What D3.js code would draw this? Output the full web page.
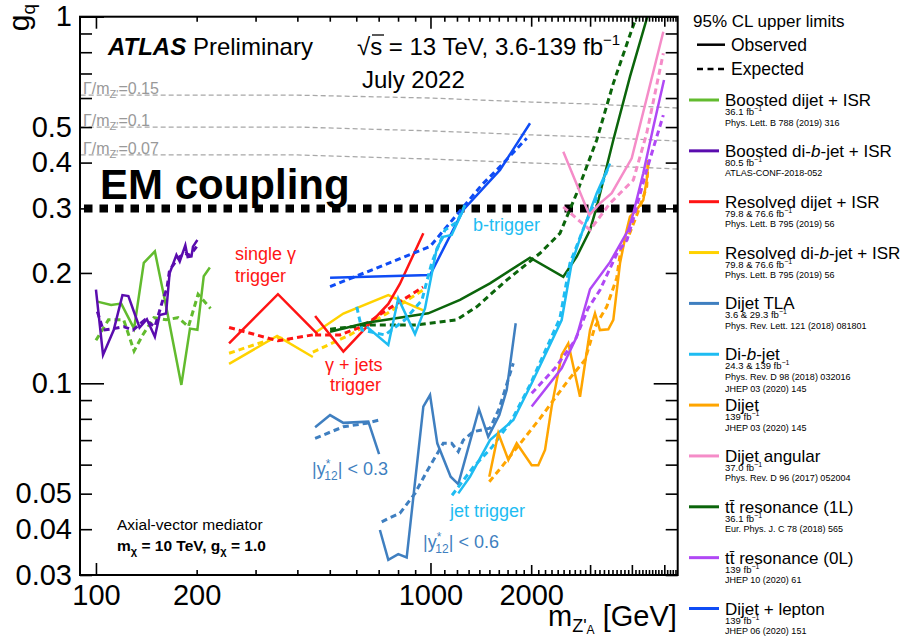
<!DOCTYPE html>
<html><head><meta charset="utf-8">
<script src="https://cdn.jsdelivr.net/npm/d3@7"></script>
<style>body{margin:0;background:#fff} svg{display:block;font-family:"Liberation Sans",Arial,Helvetica,sans-serif}</style>
</head><body><svg id="c" width="912" height="639"></svg>
<script>
// ---------------- data (m [GeV], g_q) ----------------
const boostedDijetObs = [[101,0.167],[111,0.1635],[119,0.165],[130,0.141],[139,0.213],[150,0.229],[163,0.158],[180,0.099],[191,0.141],[201,0.140],[210,0.196],[219,0.207]];
const boostedDijetExp = [[100,0.131],[109,0.149],[121,0.149],[130,0.1225],[138,0.1355],[149,0.151],[162,0.149],[176,0.151],[189,0.1427],[202,0.175],[220,0.160]];
const boostedDibObs = [[100,0.180],[105,0.1195],[113,0.1397],[120,0.174],[125,0.173],[135,0.142],[142,0.1495],[150,0.134],[155,0.1536],[162,0.155],[166,0.1995],[174,0.224],[178,0.215],[185,0.238],[188,0.221],[193,0.222],[195,0.236],[201,0.246]];
const boostedDibExp = [[101,0.157],[105,0.1397],[113,0.141],[121,0.1427],[129,0.1397],[140,0.149],[150,0.1427],[159,0.1705],[163,0.1816],[166,0.2037],[172,0.213],[178,0.2215],[185,0.226],[191,0.2235],[200,0.236]];
const resDijetObsA = [[250,0.1286],[350,0.175],[458,0.1366]];
const resDijetExpA = [[250,0.142],[350,0.1306],[461,0.1363]];
const resDijetObsB = [[452,0.1527],[549,0.122],[748,0.1646],[810,0.1866],[952,0.2565]];
const resDijetExpB = [[452,0.1355],[536,0.1355],[624,0.1428],[741,0.1585],[950,0.183]];
const resDibObsA = [[250,0.113],[348,0.1346],[445,0.118]];
const resDibExpA = [[250,0.1208],[348,0.1335],[380,0.131]];
const resDibObsB = [[452,0.1374],[549,0.155],[748,0.174],[952,0.158]];
const resDibExpB = [[445,0.1217],[574,0.1355],[741,0.155],[950,0.1797]];
const tla03Obs = [[452,0.0759],[501,0.0819],[549,0.078],[652,0.0786],[702,0.0641]];
const tla03Exp = [[452,0.0708],[549,0.0761],[644,0.0778],[702,0.0794]];
const tla06Obs = [[706,0.0398],[748,0.033],[801,0.0342],[849,0.0335],[952,0.0864],[997,0.0929],[1048,0.0686],[1149,0.0556],[1211,0.0531],[1396,0.085],[1488,0.0715],[1606,0.0819],[1690,0.0959],[1798,0.1458]];
const tla06Exp = [[715,0.0419],[748,0.0428],[810,0.0442],[899,0.0501],[974,0.0574],[1092,0.0686],[1157,0.0686],[1211,0.0651],[1253,0.070],[1343,0.0738],[1506,0.0754],[1606,0.0855],[1768,0.1134]];
const dibBObs = [[645,0.1427],[748,0.1272],[801,0.1705],[899,0.1363],[963,0.160],[1044,0.2334],[1092,0.251],[1157,0.2539],[1253,0.297]];
const dibBExp = [[602,0.1617],[624,0.1397],[731,0.1355],[839,0.149],[943,0.1688],[1010,0.214],[1105,0.262],[1200,0.2754],[1268,0.3064]];
const dibJObs = [[1211,0.0501],[1312,0.0556],[1506,0.070],[1769,0.0794],[2007,0.1],[2467,0.1488],[2643,0.2125],[2832,0.2565],[3140,0.33],[3440,0.398]];
const dibJExp = [[1160,0.0495],[1343,0.0591],[1528,0.067],[1750,0.0794],[1984,0.099],[2438,0.1507],[2612,0.2126],[2856,0.262],[3210,0.3366],[3393,0.3867]];
const dijetObs = [[1499,0.0556],[1595,0.0731],[1709,0.0618],[1810,0.0686],[2007,0.0598],[2100,0.0598],[2200,0.0658],[2303,0.0864],[2467,0.1195],[2582,0.1285],[2799,0.0919],[2999,0.1397],[3103,0.1552],[3211,0.1397],[3401,0.1404],[3520,0.149],[3686,0.2125],[3860,0.262],[3948,0.2847],[4134,0.297],[4327,0.316],[4430,0.3586],[4478,0.4065]];
const dijetExp = [[1499,0.0539],[1633,0.0592],[2125,0.0802],[2582,0.102],[2896,0.1158],[3103,0.1427],[3363,0.1617],[3603,0.1934],[3730,0.241],[3904,0.251],[4229,0.303],[4430,0.3439],[4478,0.4065]];
const angularObs = [[2495,0.428],[2985,0.288],[3211,0.3097],[3481,0.33],[3995,0.411],[4966,0.91]];
const angularExp = [[2495,0.303],[2766,0.279],[2999,0.262],[3440,0.3097],[4040,0.3586],[4430,0.481],[4966,0.795]];
const tt1LObs = [[501,0.1382],[645,0.1463],[985,0.1552],[1225,0.1688],[1506,0.1874],[1984,0.220],[2495,0.1953],[2736,0.2215],[2999,0.262],[3140,0.303],[3520,0.461],[3948,0.686],[4450,1.0]];
const tt1LExp = [[501,0.1404],[645,0.1443],[909,0.1443],[1198,0.149],[1375,0.1617],[1690,0.1913],[2125,0.2263],[2438,0.2565],[2736,0.33],[3140,0.461],[3520,0.658],[3995,0.92],[4130,1.0]];
const tt0LObs = [[2007,0.0864],[2467,0.1099],[2736,0.134],[2999,0.1805],[3440,0.214],[3904,0.262],[4040,0.291],[4325,0.374],[4637,0.5],[4990,0.672]];
const tt0LExp = [[2007,0.0939],[2355,0.1099],[2705,0.131],[2957,0.160],[3211,0.1797],[3610,0.226],[3867,0.246],[4030,0.279],[4430,0.382],[4966,0.539]];
const lepObs = [[501,0.194],[997,0.1974],[1253,0.297],[1614,0.382],[1984,0.512]];
const lepExp = [[501,0.1835],[997,0.236],[1423,0.3475],[1614,0.390],[1939,0.466]];

const widthMass = [90,400,1000,2000,3000,4000,5480];
const width015 = [0.611,0.611,0.600,0.585,0.578,0.571,0.5636];
const width010 = [0.500,0.500,0.488,0.476,0.470,0.464,0.458];
const width007 = [0.4196,0.4196,0.409,0.399,0.394,0.389,0.3842];
const widthLabels = ["0.15","0.1","0.07"];
const emCoupling = 0.3;

const yTickLabels = {0.03:"0.03",0.04:"0.04",0.05:"0.05",0.1:"0.1",0.2:"0.2",0.3:"0.3",0.4:"0.4",0.5:"0.5",1:"1"};
const xTickLabels = {100:"100",200:"200",1000:"1000",2000:"2000"};

const legendEntries = [
  {name:"Boosted dijet + ISR", color:"#62bb2e", lumi:"36.1 fb", refs:["Phys. Lett. B 788 (2019) 316"]},
  {name:"Boosted di-*b*-jet + ISR", color:"#5a0cae", lumi:"80.5 fb", refs:["ATLAS-CONF-2018-052"]},
  {name:"Resolved dijet + ISR", color:"#ff1414", lumi:"79.8 & 76.6 fb", refs:["Phys. Lett. B 795 (2019) 56"]},
  {name:"Resolved di-*b*-jet + ISR", color:"#ffd200", lumi:"79.8 & 76.6 fb", refs:["Phys. Lett. B 795 (2019) 56"]},
  {name:"Dijet TLA", color:"#3f7fc0", lumi:"3.6 & 29.3 fb", refs:["Phys. Rev. Lett. 121 (2018) 081801"]},
  {name:"Di-*b*-jet", color:"#1ebcf2", lumi:"24.3 & 139 fb", refs:["Phys. Rev. D 98 (2018) 032016","JHEP 03 (2020) 145"]},
  {name:"Dijet", color:"#ffa500", lumi:"139 fb", refs:["JHEP 03 (2020) 145"]},
  {name:"Dijet angular", color:"#f58cc8", lumi:"37.0 fb", refs:["Phys. Rev. D 96 (2017) 052004"]},
  {name:"tt\u0304 resonance (1L)", color:"#0b650b", lumi:"36.1 fb", refs:["Eur. Phys. J. C 78 (2018) 565"]},
  {name:"tt\u0304 resonance (0L)", color:"#b048f5", lumi:"139 fb", refs:["JHEP 10 (2020) 61"]},
  {name:"Dijet + lepton", color:"#0f4cf5", lumi:"139 fb", refs:["JHEP 06 (2020) 151"]}
];
const C = Object.fromEntries(legendEntries.map((e,i)=>[i,e.color]));

const curves = [
  {pts:boostedDijetObs,c:0},{pts:boostedDijetExp,c:0,d:1},
  {pts:boostedDibObs,c:1},{pts:boostedDibExp,c:1,d:1},
  {pts:resDibObsA,c:3},{pts:resDibExpA,c:3,d:1},{pts:resDibObsB,c:3},{pts:resDibExpB,c:3,d:1},
  {pts:resDijetObsA,c:2},{pts:resDijetExpA,c:2,d:1},{pts:resDijetObsB,c:2},{pts:resDijetExpB,c:2,d:1},
  {pts:tla03Obs,c:4},{pts:tla03Exp,c:4,d:1},{pts:tla06Obs,c:4},{pts:tla06Exp,c:4,d:1},
  {pts:lepObs,c:10},{pts:lepExp,c:10,d:1},
  {pts:tt1LObs,c:8},{pts:tt1LExp,c:8,d:1},
  {pts:dibBObs,c:5},{pts:dibBExp,c:5,d:1},{pts:dibJObs,c:5},{pts:dibJExp,c:5,d:1},
  {pts:dijetObs,c:6},{pts:dijetExp,c:6,d:1},
  {pts:angularObs,c:7},{pts:angularExp,c:7,d:1},
  {pts:tt0LObs,c:9},{pts:tt0LExp,c:9,d:1}
];

// ---------------- layout ----------------
const svg = d3.select('#c');
const X0=80, X1=677.7, Y0=16.7, Y1=575;
const x = d3.scaleLog().domain([89.6,5483]).range([X0,X1]);
const y = d3.scaleLog().domain([0.03,1]).range([Y1,Y0]);

svg.append('defs').append('clipPath').attr('id','clip').append('rect')
  .attr('x',X0).attr('y',Y0).attr('width',X1-X0).attr('height',Y1-Y0);
const plot = svg.append('g').attr('clip-path','url(#clip)');
const line = d3.line().x(d=>x(d[0])).y(d=>y(d[1]));

// width lines
[width015,width010,width007].forEach(ws=>{
  plot.append('path').datum(widthMass.map((m,i)=>[m,ws[i]])).attr('d',line)
    .attr('fill','none').attr('stroke','#a8a8a8').attr('stroke-width',1.3).attr('stroke-dasharray','5,3');
});

function rich(parent, px, py, segs, attrs){
  const t = parent.append('text').attr('x',px).attr('y',py);
  Object.entries(attrs||{}).forEach(([k,v])=>t.attr(k,v));
  segs.forEach(s=>{const ts=t.append('tspan').text(s.t);
    if(s.dy!==undefined) ts.attr('dy',s.dy); if(s.dx!==undefined) ts.attr('dx',s.dx);
    if(s.fs) ts.attr('font-size',s.fs); if(s.fi) ts.attr('font-style',s.fi); if(s.fw) ts.attr('font-weight',s.fw);});
  return t;
}
[width015,width010,width007].forEach((ws,i)=>{
  rich(svg, 83, y(ws[0])-1, [{t:'Γ/m'},{t:"Z'",dy:4,fs:11},{t:'='+widthLabels[i],dy:-4}], {'font-size':16,fill:'#999'});
});

// EM coupling
plot.append('line').attr('x1',X0+4).attr('x2',X1).attr('y1',y(emCoupling)).attr('y2',y(emCoupling))
  .attr('stroke','#000').attr('stroke-width',8).attr('stroke-dasharray','8.5,7');

// curves
curves.forEach(cv=>{
  plot.append('path').datum(cv.pts).attr('d',line).attr('fill','none')
    .attr('stroke',C[cv.c]).attr('stroke-width',cv.d?3:2.5)
    .attr('stroke-dasharray',cv.d?'6,4':null).attr('stroke-linejoin','miter');
});

// ---------------- axes ----------------
const yMinor = [0.03,0.04,0.05,0.06,0.07,0.08,0.09,0.2,0.3,0.4,0.5,0.6,0.7,0.8,0.9];
const yMajor = [0.1,1];
const xMajor = [100,1000];
const xMid = [2000,3000,4000,5000];
const xMinor = d3.range(200,1000,100).concat(d3.range(1100,5500,100).filter(v=>v%1000!==0));
function styleAxis(g){ g.select('.domain').remove(); g.selectAll('line').attr('stroke','#000').attr('stroke-width',1.6);
  g.selectAll('text').attr('font-family','"Liberation Sans",Arial,sans-serif').attr('font-size',29).attr('fill','#000'); }
const fy = d=>yTickLabels[d]||'';
const fx = d=>xTickLabels[d]||'';
svg.append('g').attr('transform',`translate(${X0},0)`).call(d3.axisLeft(y).tickValues(yMinor).tickSize(-12).tickSizeOuter(0).tickPadding(8).tickFormat(fy)).call(styleAxis);
svg.append('g').attr('transform',`translate(${X0},0)`).call(d3.axisLeft(y).tickValues(yMajor).tickSize(-24).tickSizeOuter(0).tickPadding(8).tickFormat(fy)).call(styleAxis);
svg.append('g').attr('transform',`translate(${X1},0)`).call(d3.axisRight(y).tickValues(yMinor).tickSize(-12).tickSizeOuter(0).tickFormat('')).call(styleAxis);
svg.append('g').attr('transform',`translate(${X1},0)`).call(d3.axisRight(y).tickValues(yMajor).tickSize(-24).tickSizeOuter(0).tickFormat('')).call(styleAxis);
[[xMajor,12],[xMid,10],[xMinor,5]].forEach(([vals,len])=>{
  svg.append('g').attr('transform',`translate(0,${Y1})`).call(d3.axisBottom(x).tickValues(vals).tickSize(-len).tickSizeOuter(0).tickPadding(9.5).tickFormat(fx)).call(styleAxis);
  svg.append('g').attr('transform',`translate(0,${Y0})`).call(d3.axisTop(x).tickValues(vals).tickSize(-len).tickSizeOuter(0).tickFormat('')).call(styleAxis);
});
svg.append('rect').attr('x',X0).attr('y',Y0).attr('width',X1-X0).attr('height',Y1-Y0)
  .attr('fill','none').attr('stroke','#000').attr('stroke-width',2);

// axis titles
rich(svg, 548, 626, [{t:'m'},{t:"Z'",dy:6,fs:18},{t:'A',dy:2,fs:12},{t:' [GeV]',dy:-8}], {'font-size':29});
rich(svg, 0, 0, [{t:'g'},{t:'q',dy:6,fs:19}], {'font-size':30,'text-anchor':'end',transform:'translate(29,4) rotate(-90)'});

// ---------------- annotations ----------------
rich(svg,108,55,[{t:'ATLAS',fw:'bold',fi:'italic'},{t:' Preliminary'}],{'font-size':24});
rich(svg,357,55,[{t:'√s = 13 TeV, 3.6-139 fb'},{t:'−1',dy:-10,fs:15}],{'font-size':24});
svg.append('line').attr('x1',372).attr('x2',384).attr('y1',35).attr('y2',35).attr('stroke','#000').attr('stroke-width',1.3);
rich(svg,362,88,[{t:'July 2022'}],{'font-size':24});
rich(svg,100,199,[{t:'EM coupling'}],{'font-size':42,'font-weight':'bold'});
rich(svg,117,530,[{t:'Axial-vector mediator'}],{'font-size':15.5});
rich(svg,117,551,[{t:'m'},{t:'χ',dy:4,fs:11},{t:' = 10 TeV, g',dy:-4},{t:'χ',dy:4,fs:11},{t:' = 1.0',dy:-4}],{'font-size':15.5,'font-weight':'bold'});
rich(svg,235,260,[{t:'single  γ'}],{'font-size':18,fill:C[2]});
rich(svg,235,282,[{t:'trigger'}],{'font-size':18,fill:C[2]});
rich(svg,325,371,[{t:'γ + jets'}],{'font-size':18,fill:C[2]});
rich(svg,330,391,[{t:'trigger'}],{'font-size':18,fill:C[2]});
rich(svg,473,231,[{t:'b-trigger'}],{'font-size':18,fill:C[5]});
rich(svg,450,517,[{t:'jet trigger'}],{'font-size':18,fill:C[5]});
function yStar(px,py,val){
  rich(svg,px,py,[{t:'|y'},{t:'*',dy:-7,fs:12},{t:'12',dx:-6,dy:12,fs:12},{t:'| < '+val,dy:-5}],{'font-size':18,fill:C[4]});
}
yStar(312,475,'0.3');
yStar(423,548,'0.6');

// ---------------- legend ----------------
const lg = svg.append('g');
rich(lg,693,27,[{t:'95% CL upper limits'}],{'font-size':17});
lg.append('line').attr('x1',697).attr('x2',725).attr('y1',44.7).attr('y2',44.7).attr('stroke','#000').attr('stroke-width',2.5);
rich(lg,731,51,[{t:'Observed'}],{'font-size':17.5});
lg.append('line').attr('x1',697).attr('x2',725).attr('y1',69).attr('y2',69).attr('stroke','#000').attr('stroke-width',2.5).attr('stroke-dasharray','6,4.5');
rich(lg,731,75,[{t:'Expected'}],{'font-size':17.5});
legendEntries.forEach((e,i)=>{
  const ly = 100 + i*50.85;
  lg.append('line').attr('x1',689).attr('x2',719).attr('y1',ly).attr('y2',ly).attr('stroke',e.color).attr('stroke-width',3);
  const segs = e.name.split('*').map((s,k)=>({t:s, fi: k%2? 'italic':null}));
  rich(lg,725,ly+6,segs,{'font-size':17});
  rich(lg,725,ly+15,[{t:e.lumi},{t:'−1',dy:-4,fs:7}],{'font-size':9.5});
  e.refs.forEach((r,k)=> rich(lg,725,ly+25.5+k*12.5,[{t:r}],{'font-size':9}));
});
</script></body></html>
